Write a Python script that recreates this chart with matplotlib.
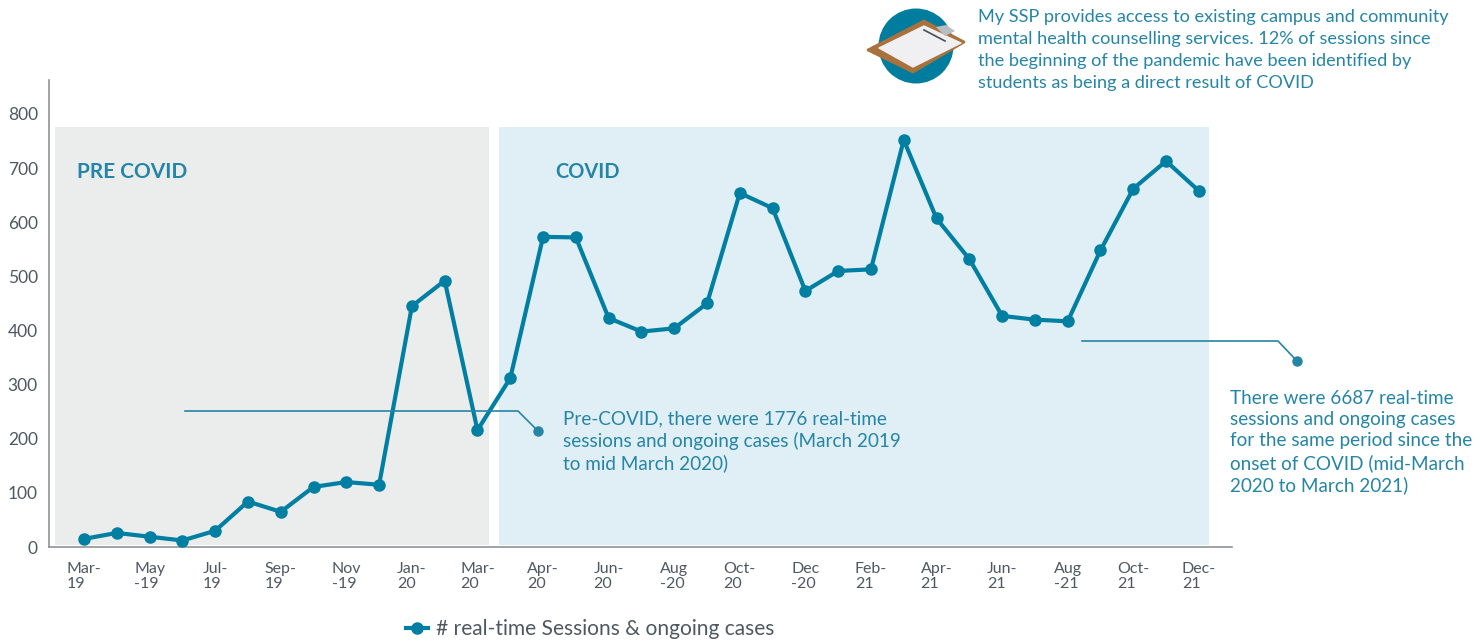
import matplotlib
matplotlib.use("Agg")
import matplotlib.pyplot as plt
from matplotlib.patches import Circle, Polygon

plt.rcParams['font.family'] = ['Lato', 'DejaVu Sans']

W, H = 1484, 640
TEAL = '#007fa3'
TEXT_TEAL = '#2585a6'
GREY = '#4f5862'

months = ['Mar-19', 'Apr-19', 'May-19', 'Jun-19', 'Jul-19', 'Aug-19', 'Sep-19', 'Oct-19', 'Nov-19',
          'Dec-19', 'Jan-20', 'Feb-20', 'Mar-20a', 'Mar-20b', 'Apr-20', 'May-20', 'Jun-20', 'Jul-20',
          'Aug-20', 'Sep-20', 'Oct-20', 'Nov-20', 'Dec-20', 'Jan-21', 'Feb-21', 'Mar-21', 'Apr-21',
          'May-21', 'Jun-21', 'Jul-21', 'Aug-21', 'Sep-21', 'Oct-21', 'Nov-21', 'Dec-21']
sessions = [15, 26, 19, 12, 30, 84, 65, 111, 120, 115, 445, 492, 216, 312, 573, 572, 423, 398,
            404, 450, 654, 626, 473, 510, 513, 752, 607, 532, 427, 420, 417, 548, 662, 713, 658]
tick_positions = [0, 2, 4, 6, 8, 10, 12, 14, 16, 18, 20, 22, 24, 26, 28, 30, 32, 34]
tick_labels = ['Mar-\n19', 'May\n-19', 'Jul-\n19', 'Sep-\n19', 'Nov\n-19', 'Jan-\n20', 'Mar-\n20',
               'Apr-\n20', 'Jun-\n20', 'Aug\n-20', 'Oct-\n20', 'Dec\n-20', 'Feb-\n21', 'Apr-\n21',
               'Jun-\n21', 'Aug\n-21', 'Oct-\n21', 'Dec-\n21']
y_ticks = [0, 100, 200, 300, 400, 500, 600, 700, 800]

fig = plt.figure(figsize=(W / 100, H / 100), dpi=100)
ax = fig.add_axes([49 / W, 1 - 547 / H, (1232 - 49) / W, (547 - 80) / H])

# 32.79 px per month, first point at x=84; 0.54125 px per session
ax.set_xlim(-35 / 32.79, 1148 / 32.79)
ax.set_ylim(0, 467 / 0.54125)

# shaded periods
ax.axvspan(-0.88, 12.35, ymin=0.004, ymax=0.899, color='#ebeded', lw=0, zorder=0)
ax.axvspan(12.65, 34.3, ymin=0.004, ymax=0.899, color='#e0eff5', lw=0, zorder=0)

line, = ax.plot(range(len(sessions)), sessions, '-o', color=TEAL, lw=3, ms=8,
                label='# real-time Sessions & ongoing cases', zorder=3, clip_on=False)

ax.set_xticks(tick_positions)
ax.set_xticklabels(tick_labels, fontsize=11.5, color=GREY, linespacing=1.05, multialignment='left')
ax.set_yticks(y_ticks)
ax.tick_params(axis='both', length=0, labelcolor=GREY)
ax.tick_params(axis='x', pad=11, labelsize=11.5)
ax.tick_params(axis='y', pad=8, labelsize=12.5)
for s in ['top', 'right']:
    ax.spines[s].set_visible(False)
for s in ['left', 'bottom']:
    ax.spines[s].set_color('#8f9396')
    ax.spines[s].set_linewidth(1.2)

# overlay in pixel coordinates for notes and the clipboard icon
ov = fig.add_axes([0, 0, 1, 1], zorder=5)
ov.set_xlim(0, W)
ov.set_ylim(H, 0)
ov.axis('off')
ov.patch.set_alpha(0)

ov.text(77, 172, 'PRE COVID', fontsize=15, fontweight='bold', color=TEXT_TEAL, va='center')
ov.text(555, 172, 'COVID', fontsize=14.4, fontweight='bold', color=TEXT_TEAL, va='center')

ov.plot([185, 518, 538], [411, 411, 431], color=TEXT_TEAL, lw=1.2)
ov.plot([538], [431], 'o', color=TEXT_TEAL, ms=6.5)
ov.plot([1082, 1278, 1297], [341, 341, 361], color=TEXT_TEAL, lw=1.2)
ov.plot([1297], [361], 'o', color=TEXT_TEAL, ms=6.5)

ov.text(563, 441, 'Pre-COVID, there were 1776 real-time\nsessions and ongoing cases (March 2019\nto mid March 2020)',
        fontsize=13.6, color=TEXT_TEAL, va='center', linespacing=1.3)
ov.text(1230, 442, 'There were 6687 real-time\nsessions and ongoing cases\nfor the same period since the\nonset of COVID (mid-March\n2020 to March 2021)',
        fontsize=13.6, color=TEXT_TEAL, va='center', linespacing=1.3)
ov.text(978, 50, 'My SSP provides access to existing campus and community\nmental health counselling services. 12% of sessions since\nthe beginning of the pandemic have been identified by\nstudents as being a direct result of COVID',
        fontsize=13.05, color=TEXT_TEAL, va='center', linespacing=1.47)

# clipboard icon
ov.add_patch(Circle((916, 46), 37.5, color='#007c9e', lw=0))
ov.add_patch(Polygon([(924, 21), (964, 42), (913, 72), (868, 50)], fc='#a9713c', ec='#a9713c', lw=2, joinstyle='round'))
ov.add_patch(Polygon([(924, 26), (961, 43), (913, 67), (879, 48)], fc='#f0f0f3', ec='#f0f0f3', lw=1, joinstyle='round'))
ov.add_patch(Polygon([(936, 27), (946, 25), (955, 31), (945, 36)], color='#b9bcc2', lw=0))
ov.plot([924, 945], [30, 41], color='#4a4d55', lw=1.2)

# legend
fig.legend(handles=[line], loc='center left', bbox_to_anchor=(406 / W, 1 - 629 / H), frameon=False,
           fontsize=15.1, labelcolor=GREY, handlelength=1.05, handletextpad=0.4, borderpad=0, borderaxespad=0)

fig.savefig('out.png', dpi=100)
